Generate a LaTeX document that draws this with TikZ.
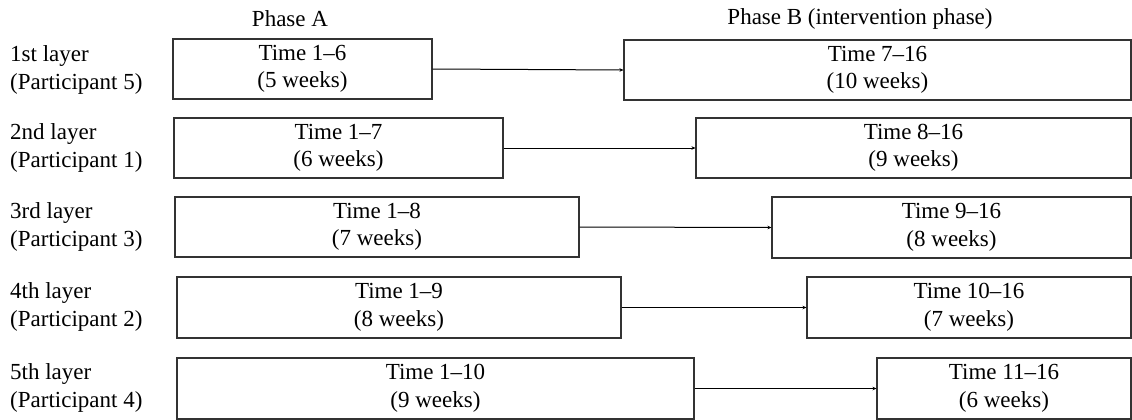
\documentclass[tikz,border=0pt]{standalone}
\usepackage{fontspec}
\setmainfont{Liberation Serif}
\usetikzlibrary{arrows.meta,fit}
\begin{document}
\begin{tikzpicture}[x=1pt,y=-1pt,
  every node/.style={font=\fontsize{23}{27.5}\selectfont, text=black, align=center},
  phasebox/.style={draw=black!80, line width=1.1pt, inner sep=0pt},
  rowlabel/.style={anchor=west, align=left, inner sep=0pt},
  conn/.style={draw=black, line width=1pt, -{Stealth[length=4pt,width=3.5pt]}}]
\useasboundingbox (0,0) rectangle (1132,420);
\node (pa) at (290,19) {Phase A};
\node (pb) at (860,19) {Phase B (intervention phase)};
% row labels
\node[rowlabel] (l1) at (10,70) {1st layer\\(Participant 5)};
\node[rowlabel] (l2) at (10,148) {2nd layer\\(Participant 1)};
\node[rowlabel] (l3) at (10,227) {3rd layer\\(Participant 3)};
\node[rowlabel] (l4) at (10,307) {4th layer\\(Participant 2)};
\node[rowlabel] (l5) at (10,388) {5th layer\\(Participant 4)};
% boxes
\node[phasebox, fit={(173,39)(432,99)}] (a1) {};
\node at (a1.center) {Time 1--6\\(5 weeks)};
\node[phasebox, fit={(624,40)(1131,100)}] (b1) {};
\node at (b1.center) {Time 7--16\\(10 weeks)};
\node[phasebox, fit={(174,118)(503,178)}] (a2) {};
\node at (a2.center) {Time 1--7\\(6 weeks)};
\node[phasebox, fit={(696,118)(1131,178)}] (b2) {};
\node at (b2.center) {Time 8--16\\(9 weeks)};
\node[phasebox, fit={(175,197)(579,257)}] (a3) {};
\node at (a3.center) {Time 1--8\\(7 weeks)};
\node[phasebox, fit={(772,197)(1131,258)}] (b3) {};
\node at (b3.center) {Time 9--16\\(8 weeks)};
\node[phasebox, fit={(177,277)(621,338)}] (a4) {};
\node at (a4.center) {Time 1--9\\(8 weeks)};
\node[phasebox, fit={(807,277)(1131,338)}] (b4) {};
\node at (b4.center) {Time 10--16\\(7 weeks)};
\node[phasebox, fit={(177,358)(694,419)}] (a5) {};
\node at (a5.center) {Time 1--10\\(9 weeks)};
\node[phasebox, fit={(877,358)(1131,419)}] (b5) {};
\node at (b5.center) {Time 11--16\\(6 weeks)};
% connectors
\draw[conn] (a1.east) -- (b1.west);
\draw[conn] (a2.east) -- (b2.west);
\draw[conn] (a3.east) -- (b3.west);
\draw[conn] (a4.east) -- (b4.west);
\draw[conn] (a5.east) -- (b5.west);
\end{tikzpicture}
\end{document}
